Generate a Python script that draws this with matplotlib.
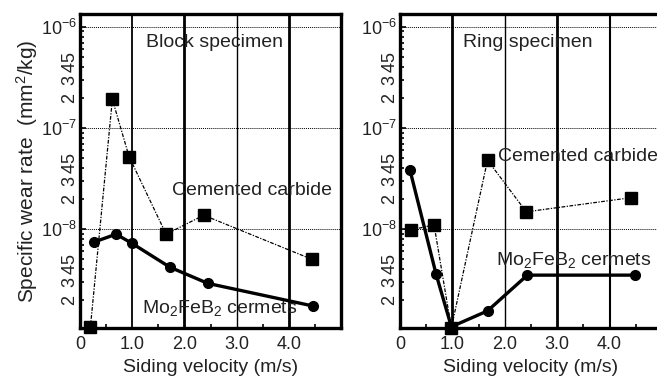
import math
import matplotlib
matplotlib.use("Agg")
import matplotlib.pyplot as plt
from matplotlib.ticker import FixedLocator, FuncFormatter

plt.rcParams['font.family'] = ['Liberation Sans', 'DejaVu Sans']
plt.rcParams['mathtext.fontset'] = 'custom'
plt.rcParams['mathtext.rm'] = 'Liberation Sans'
plt.rcParams['mathtext.it'] = 'Liberation Sans:italic'
plt.rcParams['mathtext.bf'] = 'Liberation Sans:bold'

# Block specimen
block_cc_x = [0.20, 0.62, 0.94, 1.65, 2.37, 4.45]
block_cc_y = [1.08e-9, 1.92e-7, 5.2e-8, 8.9e-9, 1.37e-8, 5.0e-9]
block_mo_x = [0.26, 0.69, 1.00, 1.72, 2.45, 4.47]
block_mo_y = [7.4e-9, 8.9e-9, 7.2e-9, 4.2e-9, 2.9e-9, 1.73e-9]

# Ring specimen
ring_cc_x = [0.21, 0.65, 0.98, 1.67, 2.41, 4.40]
ring_cc_y = [9.8e-9, 1.1e-8, 1.05e-9, 4.8e-8, 1.48e-8, 2.04e-8]
ring_mo_x = [0.19, 0.69, 0.98, 1.67, 2.43, 4.48]
ring_mo_y = [3.84e-8, 3.56e-9, 1.08e-9, 1.55e-9, 3.5e-9, 3.5e-9]

x_ticks = [0, 1, 2, 3, 4]
x_ticklabels = ['0', '1.0', '2.0', '3.0', '4.0']
decades = [1e-8, 1e-7, 1e-6]
decade_labels = ['10$^{\\mathrm{-8}}$', '10$^{\\mathrm{-7}}$', '10$^{\\mathrm{-6}}$']

fig = plt.figure(figsize=(6.57, 3.76), dpi=100)
W, H = 657, 376
ax1 = fig.add_axes([80 / W, (H - 328) / H, 261 / W, 314 / H])
ax2 = fig.add_axes([400 / W, (H - 328) / H, 262 / W, 314 / H])

fs_tick = 13
fs_text = 14
tc = '#222222'


def mfmt(v, pos):
    m = round(v / 10 ** math.floor(math.log10(v) + 1e-9))
    return str(m) if m in (2, 3, 4, 5) else ''


def style(ax, vwidths):
    ax.set_yscale('log')
    ax.set_xlim(0, 5.0)
    ax.set_ylim(1.05e-9, 1.34e-6)
    for x, lw in zip([1, 2, 3, 4], vwidths):
        ax.axvline(x, color='black', lw=lw, zorder=1)
    for d in decades:
        ax.axhline(d, color='black', lw=0.7, ls=(0, (1, 1)), zorder=1)
    for s in ['left', 'bottom', 'top', 'right']:
        ax.spines[s].set_linewidth(2.4)
    ax.set_xticks(x_ticks)
    ax.set_xticklabels(x_ticklabels, fontsize=fs_tick, color=tc)
    ax.xaxis.set_minor_locator(FixedLocator([0.5, 1.5, 2.5, 3.5, 4.5]))
    ax.tick_params(axis='x', which='major', direction='in', length=0, pad=6)
    ax.tick_params(axis='x', which='minor', direction='in', length=3, width=1.2)
    ax.yaxis.set_major_locator(FixedLocator(decades))
    ax.set_yticklabels(decade_labels, fontsize=fs_tick, color=tc)
    minors = [m * 10.0 ** e for e in (-9, -8, -7) for m in range(2, 10)]
    ax.yaxis.set_minor_locator(FixedLocator(minors))
    ax.yaxis.set_minor_formatter(FuncFormatter(mfmt))
    ax.tick_params(axis='y', which='major', direction='in', length=4, width=1.2, pad=2)
    ax.tick_params(axis='y', which='minor', direction='in', length=3, width=1.2,
                   labelsize=fs_tick, labelrotation=90, pad=1, labelcolor=tc)
    for lab in ax.yaxis.get_minorticklabels():
        lab.set_va('center')
    ax.set_xlabel('Siding velocity (m/s)', fontsize=fs_text, color=tc, labelpad=4)


style(ax1, [1.3, 2.0, 1.0, 2.0])
style(ax2, [2.0, 1.0, 2.0, 1.5])

cc_style = dict(color='black', lw=0.9, ls=(0, (3, 1.2, 1, 1.2)), marker='s', ms=8, zorder=3,
                clip_on=False)
mo_style = dict(color='black', lw=2.4, ls='-', marker='o', ms=7, zorder=4, clip_on=False)

ax1.plot(block_cc_x, block_cc_y, **cc_style)
ax1.plot(block_mo_x, block_mo_y, **mo_style)
ax2.plot(ring_cc_x, ring_cc_y, **cc_style)
ax2.plot(ring_mo_x, ring_mo_y, **mo_style)

ax1.text(1.27, 6.95e-7, 'Block specimen', fontsize=fs_text, va='center', ha='left', color=tc)
ax1.text(1.77, 2.43e-8, 'Cemented carbide', fontsize=fs_text, va='center', ha='left', color=tc)
ax1.text(1.19, 1.65e-9, 'Mo$_\\mathrm{2}$FeB$_\\mathrm{2}$ cermets', fontsize=fs_text,
         va='center', ha='left', color=tc)
ax2.text(1.2, 6.95e-7, 'Ring specimen', fontsize=fs_text, va='center', ha='left', color=tc)
ax2.text(1.87, 5.16e-8, 'Cemented carbide', fontsize=fs_text, va='center', ha='left', color=tc)
ax2.text(1.83, 4.9e-9, 'Mo$_\\mathrm{2}$FeB$_\\mathrm{2}$ cermets', fontsize=fs_text,
         va='center', ha='left', color=tc)

ax1.set_ylabel('Specific wear rate  (mm$^\\mathrm{2}$/kg)', fontsize=15, color=tc, labelpad=1)

fig.savefig('out.png', dpi=100)
